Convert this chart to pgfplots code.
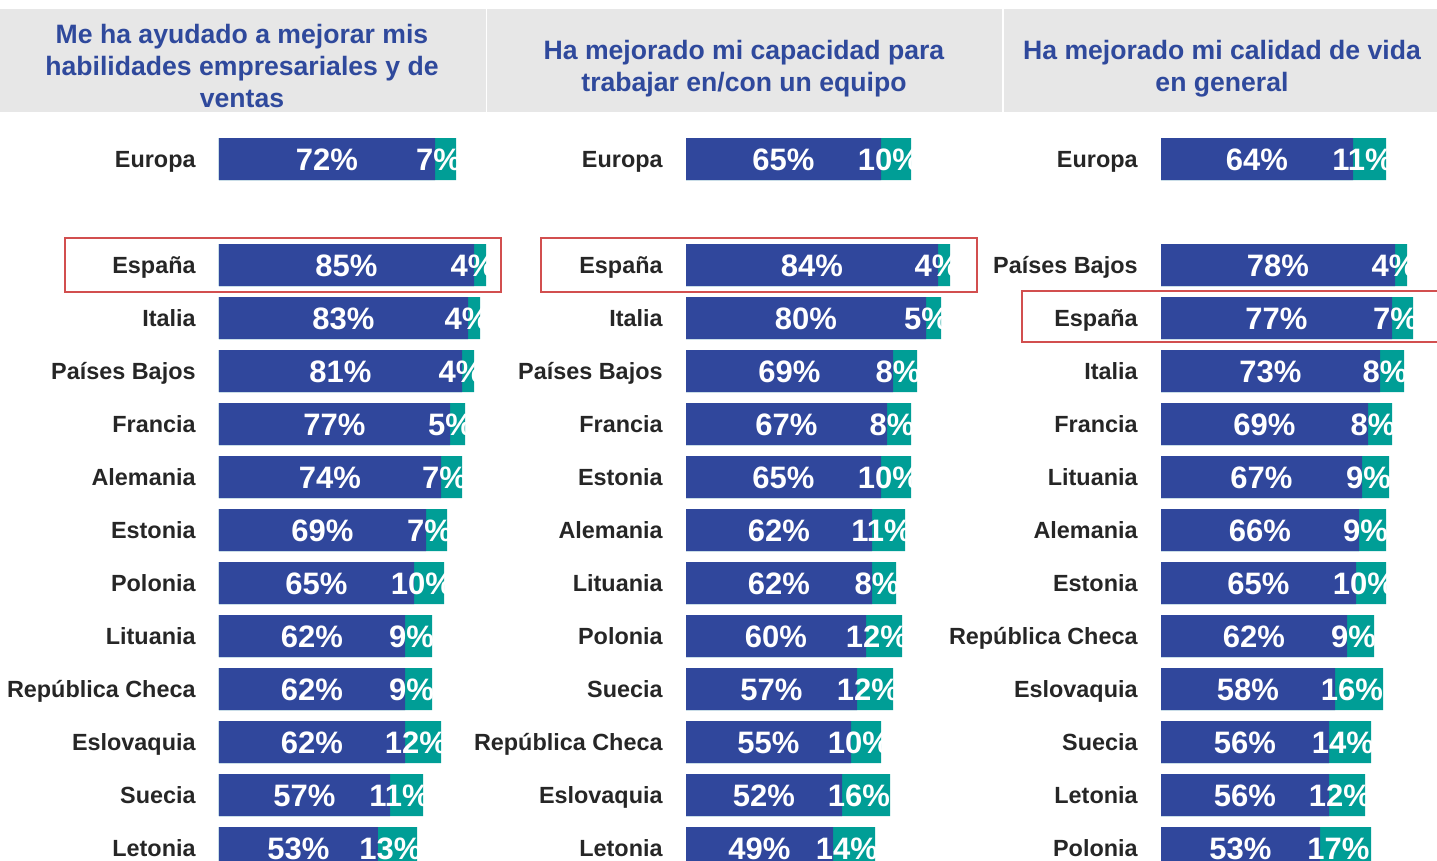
\documentclass[border=0pt]{standalone}
\usepackage{pgfplots}
\pgfplotsset{compat=1.18}
\usepackage{pgfplotstable}
\usepackage{fontspec}
\setmainfont{Liberation Sans}
\definecolor{barblue}{HTML}{30479C}
\definecolor{barteal}{HTML}{009E96}
\definecolor{headgray}{HTML}{E7E7E7}
\definecolor{headblue}{HTML}{2F499C}
\definecolor{boxred}{HTML}{D24F4F}
\definecolor{namegray}{HTML}{262626}

% row, country, blue share, teal share
\pgfplotstableread[col sep=comma]{
row,name,a,b
0,Europa,72,7
2,España,85,4
3,Italia,83,4
4,Países Bajos,81,4
5,Francia,77,5
6,Alemania,74,7
7,Estonia,69,7
8,Polonia,65,10
9,Lituania,62,9
10,República Checa,62,9
11,Eslovaquia,62,12
12,Suecia,57,11
13,Letonia,53,13
}\habilidades

\pgfplotstableread[col sep=comma]{
row,name,a,b
0,Europa,65,10
2,España,84,4
3,Italia,80,5
4,Países Bajos,69,8
5,Francia,67,8
6,Estonia,65,10
7,Alemania,62,11
8,Lituania,62,8
9,Polonia,60,12
10,Suecia,57,12
11,República Checa,55,10
12,Eslovaquia,52,16
13,Letonia,49,14
}\equipo

\pgfplotstableread[col sep=comma]{
row,name,a,b
0,Europa,64,11
2,Países Bajos,78,4
3,España,77,7
4,Italia,73,8
5,Francia,69,8
6,Lituania,67,9
7,Alemania,66,9
8,Estonia,65,10
9,República Checa,62,9
10,Eslovaquia,58,16
11,Suecia,56,14
12,Letonia,56,12
13,Polonia,53,17
}\calidad

\pgfplotsset{
  panel/.style={
    x=1.5pt, y=26.5pt, y dir=reverse,
    xmin=0, xmax=100, ymin=-0.5, ymax=13.5,
    enlargelimits=false, anchor=north west, clip=false,
    axis line style={draw=none}, tick style={draw=none},
    major tick length=0pt,
    xtick=\empty, ytick=data,
    yticklabels from table={#1}{name},
    yticklabel style={anchor=east, inner sep=0pt, xshift=-11.5pt,
      font=\fontsize{11.7}{14}\selectfont\bfseries, text=namegray,
      text height=8.4pt, text depth=0pt},
  },
  seg/.style={xbar, bar width=21pt, bar shift=0pt, draw=none, fill=#1},
  lab/.style={draw=none, mark=none, point meta=explicit symbolic,
    nodes near coords={\pgfplotspointmeta\%},
    every node near coord/.append style={anchor=center, text=white,
      font=\fontsize{15.5}{18}\selectfont\bfseries,
      text height=11pt, text depth=0pt, inner sep=0pt, #1}},
  lab/.default={},
}

\newcommand{\panel}[2]{%
\begin{axis}[panel=#2, at={(#1,-66.25pt)}]
\addplot[seg=barteal] table[x expr=\thisrow{a}+\thisrow{b}, y=row]{#2};
\addplot[seg=barblue] table[x=a, y=row]{#2};
\addplot[lab] table[x expr=\thisrow{a}/2, y=row, meta=a]{#2};
\addplot[lab={xshift=-3.5pt}] table[x expr=\thisrow{a}+\thisrow{b}/2, y=row, meta=b]{#2};
\end{axis}}

\begin{document}
\begin{tikzpicture}
\useasboundingbox (0,0) rectangle (718.5pt,-430.5pt);
\clip (0,0) rectangle (718.5pt,-430.5pt);
\begin{scope}[x=0.5pt, y=-0.5pt]
  \fill[headgray] (0,9) rectangle (485.5,112.5);
  \fill[headgray] (487,9) rectangle (1002,112.5);
  \fill[headgray] (1003.5,9) rectangle (1437,112.5);
  \begin{scope}[every node/.style={text=headblue, align=center,
      font=\fontsize{13.3}{16}\selectfont\bfseries}]
    \node at (242,66) {Me ha ayudado a mejorar mis\\habilidades empresariales y de\\ventas};
    \node at (744,69) {Ha mejorado mi capacidad para\\trabajar en/con un equipo};
    \node at (1222,69) {Ha mejorado mi calidad de vida\\en general};
  \end{scope}
  \draw[boxred, line width=1.1pt] (65,238) rectangle (501,292);
  \draw[boxred, line width=1.1pt] (541,238) rectangle (977,292);
  \draw[boxred, line width=1.1pt] (1022,291) rectangle (1450,342);
\end{scope}
\panel{109.5pt}{\habilidades}
\panel{343pt}{\equipo}
\panel{580.5pt}{\calidad}
\end{tikzpicture}
\end{document}
